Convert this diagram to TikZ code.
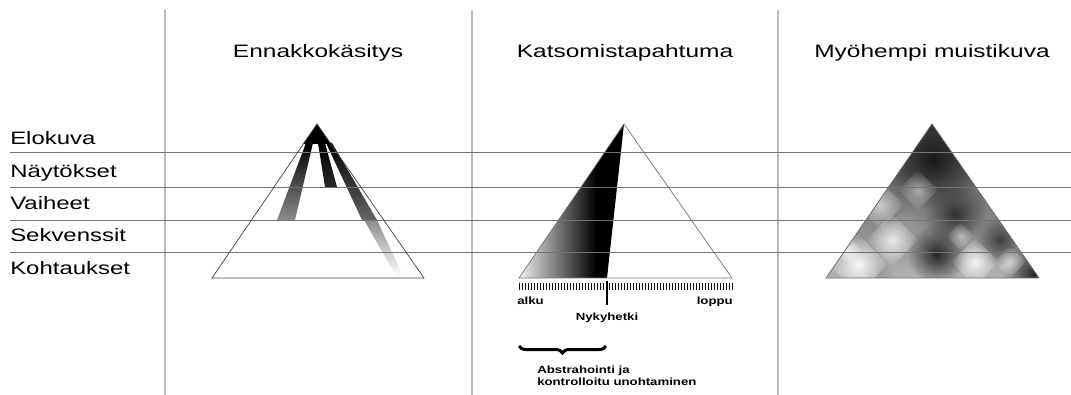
\documentclass[tikz,border=0pt]{standalone}
\usepackage{fontspec}
\setmainfont{Liberation Sans}
\usetikzlibrary{decorations.pathreplacing,fadings}
\definecolor{colgray}{HTML}{B4BCC4}
\tikzfading[name=blob, inner color=transparent!0, outer color=transparent!100]
\begin{document}
\begin{tikzpicture}[x=1pt,y=-1pt,
    title/.style={font=\fontsize{18}{20}\selectfont,xscale=1.36,anchor=base,inner sep=0},
    level/.style={font=\fontsize{18}{20}\selectfont,xscale=1.33,anchor=base west,inner sep=0},
    small/.style={font=\bfseries\fontsize{10.4}{11.5}\selectfont,xscale=1.27,anchor=base,inner sep=0},
    col/.style={draw=colgray,line width=1.6pt},
    rule/.style={draw=black!55,line width=0.8pt},
    tri/.style={draw=black!75,line width=0.7pt}]
    \useasboundingbox (0,0) rectangle (1071,395);
    % columns
    \foreach \x in {165,472,778} \draw[col] (\x,10) -- (\x,395);
    % corners
    \coordinate (a1) at (317,124); \coordinate (l1) at (212,278); \coordinate (r1) at (424,278);
    \coordinate (a2) at (624,124); \coordinate (l2) at (519,278); \coordinate (r2) at (732,278);
    \coordinate (a3) at (932,124); \coordinate (l3) at (826,278); \coordinate (r3) at (1039,278);
    \coordinate (n2) at (607,278);
    % Ennakkokasitys
    \fill[black] (a1) -- (303,144) -- (331,144) -- cycle;
    \shade[top color=black,bottom color=black!45] (306,143) -- (313,143) -- (295,220) -- (277,220) -- cycle;
    \shade[top color=black,bottom color=black!85] (318,143) -- (325,143) -- (337,187) -- (325,187) -- cycle;
    \shade[top color=black,bottom color=black!60] (326,143) -- (332,143) -- (377,220) -- (362,220) -- cycle;
    \shade[top color=black!45,bottom color=white] (364,220) -- (377,220) -- (403,276) -- (396,276) -- cycle;
    % Katsomistapahtuma
    \begin{scope}
        \clip (a2) -- (l2) -- (n2) -- cycle;
        \shade[left color=black!6,right color=black] (519,124) rectangle (596,278);
        \fill[black] (595,124) rectangle (630,278);
    \end{scope}
    % Myohempi muistikuva
    \begin{scope}
        \clip (a3) -- (l3) -- (r3) -- cycle;
        \shade[top color=black!75,bottom color=black!30] (826,124) rectangle (1039,278);
        \foreach \x/\y/\r/\c in {933/160/50/90,955/214/32/80,937/254/30/85,1000/240/26/75,
                1034/274/32/85,905/228/20/40,880/274/16/40}
            \fill[black!\c,path fading=blob] (\x,\y) circle (\r);
        \foreach \x/\y/\r/\o in {858/264/30/0.9,892/240/26/0.8,975/262/24/0.85,880/205/24/0.6,
                918/190/20/0.5,1010/262/16/0.6,960/236/14/0.5,848/250/14/0.7}
            \fill[white,opacity=\o,path fading=blob] (\x-\r,\y) -- (\x,\y-\r) -- (\x+\r,\y) -- (\x,\y+\r) -- cycle;
    \end{scope}
    % levels
    \foreach \y in {152,187,220,252} \draw[rule] (10,\y) -- (1071,\y);
    \draw[tri] (a1) -- (l1) -- (r1) -- cycle;
    \draw[tri,draw=black!55] (a2) -- (l2) -- (r2) -- cycle;
    \draw[tri,draw=black!60] (a3) -- (l3) -- (r3) -- cycle;
    % time axis
    \foreach \i in {0,...,71} \draw[line width=0.9pt] (519+\i*3,283) -- ++(0,7);
    \coordinate (t1) at (607,281); \coordinate (t2) at (607,305);
    \draw[line width=2.6pt] (t1) -- (t2);
    \coordinate (b1) at (519,346); \coordinate (b2) at (606,346);
    \draw[line width=3pt,decorate,decoration={brace,mirror,amplitude=7pt}] (b1) -- (b2);
    % texts
    \node[title] (pre) at (318,58) {Ennakkokäsitys};
    \node[title] (watch) at (625,58) {Katsomistapahtuma};
    \node[title] (memory) at (932,58) {Myöhempi muistikuva};
    \node[level] (film) at (10,145) {Elokuva};
    \node[level] (acts) at (10,178) {Näytökset};
    \node[level] (phases) at (10,210) {Vaiheet};
    \node[level] (seqs) at (10,242) {Sekvenssit};
    \node[level] (scenes) at (10,275) {Kohtaukset};
    \node[small,anchor=base west] (start) at (517,305) {alku};
    \node[small,anchor=base east] (end) at (733,305) {loppu};
    \node[small] (now) at (607,320) {Nykyhetki};
    \node[small,anchor=north west,align=left] (abstr) at (537,366) {Abstrahointi ja\\kontrolloitu unohtaminen};
\end{tikzpicture}
\end{document}
